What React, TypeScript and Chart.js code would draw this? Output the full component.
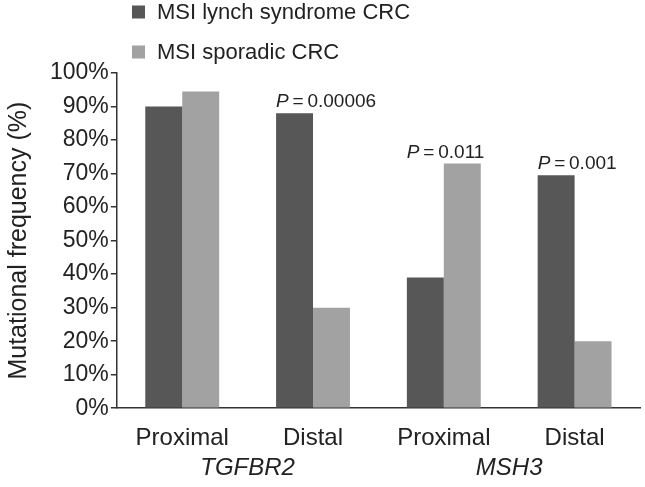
import React, { useEffect, useRef } from "react";
import { Chart, registerables } from "chart.js";

Chart.register(...registerables);

const categories = ["Proximal", "Distal", "Proximal", "Distal"];
const genes = ["TGFBR2", "MSH3"];
const geneSpans = [[0, 1], [2, 3]];
const seriesNames = ["MSI lynch syndrome CRC", "MSI sporadic CRC"];
const lynchValues = [90, 88, 39, 69.5];
const sporadicValues = [94.5, 30, 73, 20];
const pValues = ["", "0.00006", "0.011", "0.001"];
const yMin = 0;
const yMax = 100;
const yStep = 10;

const FONT = "'Liberation Sans', Arial, sans-serif";
const TEXT = "#222222";
const DARK = "#575757";
const LIGHT = "#a2a2a2";

const legendPlugin = {
  id: "customLegend",
  afterDraw(chart: any) {
    const ctx = chart.ctx;
    ctx.save();
    const rows = [12, 52];
    chart.data.datasets.forEach((ds: any, i: number) => {
      const y = rows[i];
      ctx.fillStyle = ds.backgroundColor;
      ctx.fillRect(132, y - 6.5, 13, 13);
      ctx.fillStyle = TEXT;
      ctx.font = `22px ${FONT}`;
      ctx.textAlign = "left";
      ctx.textBaseline = "middle";
      ctx.fillText(ds.label, 157, y + 1);
    });
    ctx.restore();
  },
};

const annotationPlugin = {
  id: "pAnnotations",
  afterDatasetsDraw(chart: any) {
    const ctx = chart.ctx;
    ctx.save();
    const metas = chart.data.datasets.map((_: any, i: number) => chart.getDatasetMeta(i));
    pValues.forEach((p, idx) => {
      if (!p) return;
      let top = Infinity;
      let left = Infinity;
      metas.forEach((m: any) => {
        const el = m.data[idx];
        top = Math.min(top, el.y);
        left = Math.min(left, el.x - el.width / 2);
      });
      const y = top - 6;
      ctx.textBaseline = "alphabetic";
      ctx.textAlign = "left";
      ctx.fillStyle = TEXT;
      ctx.font = `italic 19px ${FONT}`;
      ctx.fillText("P", left, y);
      const w = ctx.measureText("P").width;
      ctx.font = `19px ${FONT}`;
      ctx.fillText("\u2009=\u2009" + p, left + w, y);
    });
    ctx.restore();
  },
};

const genePlugin = {
  id: "geneLabels",
  afterDraw(chart: any) {
    const ctx = chart.ctx;
    const xs = chart.scales.x;
    ctx.save();
    ctx.fillStyle = TEXT;
    ctx.font = `italic 24px ${FONT}`;
    ctx.textAlign = "center";
    ctx.textBaseline = "middle";
    genes.forEach((g, i) => {
      const [a, b] = geneSpans[i];
      const x = (xs.getPixelForValue(a) + xs.getPixelForValue(b)) / 2;
      ctx.fillText(g, x, chart.chartArea.bottom + 60);
    });
    ctx.restore();
  },
};

export default function App() {
  const ref = useRef<HTMLCanvasElement | null>(null);
  useEffect(() => {
    if (!ref.current) return;
    const chart = new Chart(ref.current, {
      type: "bar",
      data: {
        labels: categories,
        datasets: [
          { label: seriesNames[0], data: lynchValues, backgroundColor: DARK, categoryPercentage: 0.565, barPercentage: 1 },
          { label: seriesNames[1], data: sporadicValues, backgroundColor: LIGHT, categoryPercentage: 0.565, barPercentage: 1 },
        ],
      },
      options: {
        animation: false,
        responsive: true,
        maintainAspectRatio: false,
        layout: { padding: { top: 73, right: 5, bottom: 26, left: 4 } },
        plugins: {
          legend: { display: false },
          tooltip: { enabled: false },
        },
        scales: {
          x: {
            grid: { display: false },
            border: { display: true, color: "#333333", width: 1.5 },
            ticks: { color: TEXT, font: { family: FONT, size: 24 }, padding: 8 },
          },
          y: {
            min: yMin,
            max: yMax,
            grid: { drawOnChartArea: false, drawTicks: true, tickLength: 6, color: "#333333", lineWidth: 1.5 },
            border: { display: true, color: "#333333", width: 1.5 },
            ticks: {
              stepSize: yStep,
              color: TEXT,
              padding: 2,
              font: { family: FONT, size: 23 },
              callback: (v: any) => `${v}%`,
            },
            title: {
              display: true,
              text: "Mutational frequency (%)",
              color: TEXT,
              font: { family: FONT, size: 25 },
              padding: { top: 0, bottom: 14 },
            },
          },
        },
      },
      plugins: [legendPlugin, annotationPlugin, genePlugin],
    });
    return () => chart.destroy();
  }, []);
  return (
    <div style={{ position: "fixed", left: 0, top: 0, width: 645, height: 487, background: "#fff" }}>
      <canvas ref={ref} />
    </div>
  );
}
